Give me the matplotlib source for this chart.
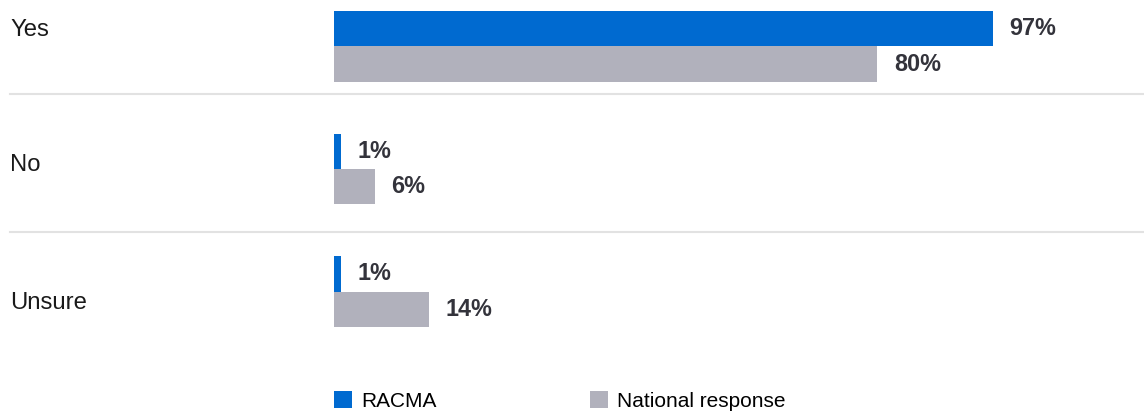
import numpy as np
import matplotlib.pyplot as plt
import matplotlib.transforms as mtransforms
from matplotlib.patches import Patch

plt.rcParams['font.family'] = ['Liberation Sans', 'DejaVu Sans']

# Data
categories = ['Yes', 'No', 'Unsure']
racma = [97, 1, 1]
national = [80, 6, 14]
series_names = ['RACMA', 'National response']

blue = '#006ad0'
gray = '#b1b1bc'
text_dark = '#33333b'

W, H = 1144, 412
fig = plt.figure(figsize=(W / 100, H / 100), dpi=100)

# axes placed so that 0..100% spans the bar area
ax = fig.add_axes([334 / W, 1 - 350 / H, 679 / W, 350 / H])
ax.set_xlim(0, 100)
ax.set_ylim(2.476, -0.379)
ax.axis('off')

y = np.arange(len(categories))
bh = 0.288
ax.barh(y - bh / 2, racma, height=bh, color=blue, linewidth=0)
ax.barh(y + bh / 2, national, height=bh, color=gray, linewidth=0)

# value labels
for yi, r, n in zip(y, racma, national):
    ax.annotate(f'{r}%', (r, yi - bh / 2), xytext=(12, 0), textcoords='offset points',
                va='center', ha='left', fontsize=16.8, fontweight='bold', color=text_dark)
    ax.annotate(f'{n}%', (n, yi + bh / 2), xytext=(12, 0), textcoords='offset points',
                va='center', ha='left', fontsize=16.8, fontweight='bold', color=text_dark)

# category labels on the far left
trans = mtransforms.blended_transform_factory(fig.transFigure, ax.transData)
label_offsets = [-0.135, -0.031, 0.092]
for yi, cat, off in zip(y, categories, label_offsets):
    ax.text(10 / W, yi + off, cat, transform=trans, ha='left', va='center',
            fontsize=17.2, color='#1a1a1a')

# row separators
for ys in [0.385, 1.511]:
    ax.plot([10 / W, 1], [ys, ys], transform=trans, color='#e2e2e2', lw=1.5,
            clip_on=False)

handles = [Patch(facecolor=blue, edgecolor='none'), Patch(facecolor=gray, edgecolor='none')]
fig.legend(handles, series_names, loc='center left', bbox_to_anchor=(334 / W, 1 - 401 / H),
           ncol=2, frameon=False, fontsize=15, handlelength=0.87, handleheight=0.87,
           handletextpad=0.43, columnspacing=7.35, borderpad=0, borderaxespad=0)

fig.savefig('out.png', dpi=100)
